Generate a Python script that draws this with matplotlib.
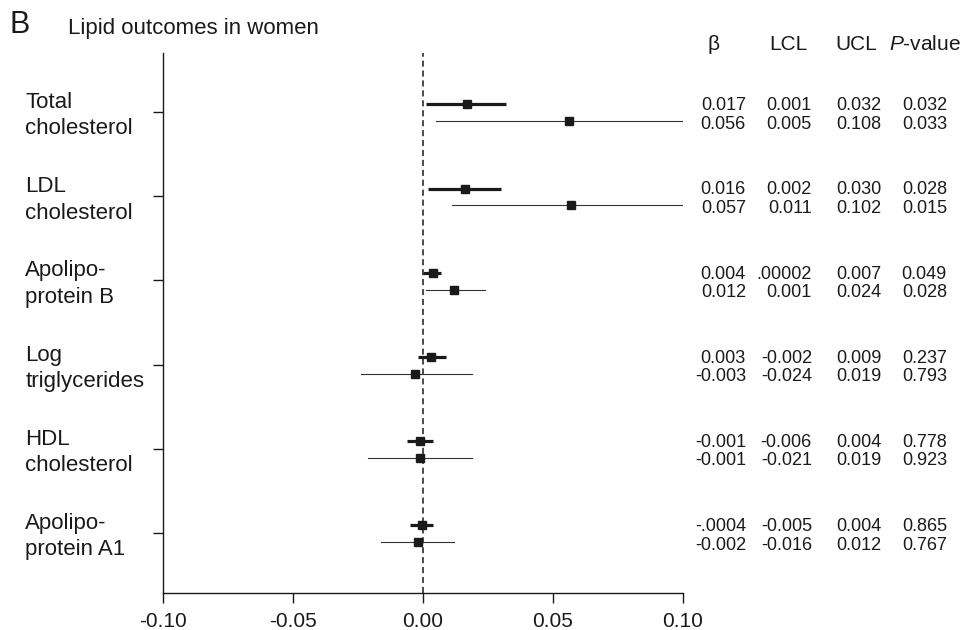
import numpy as np
import matplotlib.pyplot as plt
import matplotlib.transforms as mtransforms

plt.rcParams['font.family'] = ['Liberation Sans', 'DejaVu Sans']
plt.rcParams['mathtext.fontset'] = 'custom'
plt.rcParams['mathtext.rm'] = 'Liberation Sans'
plt.rcParams['mathtext.it'] = 'Liberation Sans:italic'

# Outcomes (top to bottom)
outcomes = ["Total\ncholesterol", "LDL\ncholesterol", "Apolipo-\nprotein B",
            "Log\ntriglycerides", "HDL\ncholesterol", "Apolipo-\nprotein A1"]

# first estimate (thick line) per outcome
beta1 = [0.017, 0.016, 0.004, 0.003, -0.001, -0.0004]
lcl1 = [0.001, 0.002, 0.00002, -0.002, -0.006, -0.005]
ucl1 = [0.032, 0.030, 0.007, 0.009, 0.004, 0.004]
p1 = ["0.032", "0.028", "0.049", "0.237", "0.778", "0.865"]

# second estimate (thin line) per outcome
beta2 = [0.056, 0.057, 0.012, -0.003, -0.001, -0.002]
lcl2 = [0.005, 0.011, 0.001, -0.024, -0.021, -0.016]
ucl2 = [0.108, 0.102, 0.024, 0.019, 0.019, 0.012]
p2 = ["0.033", "0.015", "0.028", "0.793", "0.923", "0.767"]

# table text as printed
tab1 = [["0.017", "0.001", "0.032"], ["0.016", "0.002", "0.030"],
        ["0.004", ".00002", "0.007"], ["0.003", "-0.002", "0.009"],
        ["-0.001", "-0.006", "0.004"], ["-.0004", "-0.005", "0.004"]]
tab2 = [["0.056", "0.005", "0.108"], ["0.057", "0.011", "0.102"],
        ["0.012", "0.001", "0.024"], ["-0.003", "-0.024", "0.019"],
        ["-0.001", "-0.021", "0.019"], ["-0.002", "-0.016", "0.012"]]

xticks = [-0.10, -0.05, 0.00, 0.05, 0.10]

ink = "#1a1a1a"
fig = plt.figure(figsize=(9.68, 6.3), dpi=100)
ax = fig.add_axes([0.1684, 0.0587, 0.5372, 0.8572])

n = len(outcomes)
ypos = np.arange(n, 0, -1)
off_hi = 0.09    # thick line above tick
off_lo = -0.11   # thin line below tick
xmax = 0.10

for i, y in enumerate(ypos):
    ax.plot([lcl1[i], min(ucl1[i], xmax)], [y + off_hi, y + off_hi], color=ink, lw=2.3,
            solid_capstyle="butt", zorder=3)
    ax.plot(beta1[i], y + off_hi, marker="s", ms=5.5, color=ink, zorder=4)
    ax.plot([lcl2[i], min(ucl2[i], xmax)], [y + off_lo, y + off_lo], color="#333333", lw=0.8,
            zorder=3)
    ax.plot(beta2[i], y + off_lo, marker="s", ms=5.5, color=ink, zorder=4)

ax.axvline(0, color=ink, lw=1.1, ls=(0, (4, 2.5)), zorder=2)

ax.set_xlim(-0.10, 0.10)
ax.set_ylim(0.287, 6.70)
ax.set_xticks(xticks)
ax.set_xticklabels(["%.2f" % t for t in xticks], fontsize=15, color=ink)
ax.set_yticks(ypos)
ax.set_yticklabels([])
ax.tick_params(axis="both", direction="out", length=7, width=1.0, color=ink)
ax.tick_params(axis="x", pad=7)
for s in ["top", "right"]:
    ax.spines[s].set_visible(False)
for s in ["left", "bottom"]:
    ax.spines[s].set_linewidth(1.0)
    ax.spines[s].set_color(ink)

# outcome labels (x in figure coords, y in data)
lab_tr = mtransforms.blended_transform_factory(fig.transFigure, ax.transData)
for i, y in enumerate(ypos):
    ax.text(0.026, y - 0.045, outcomes[i], transform=lab_tr, fontsize=16,
            ha="left", va="center", linespacing=1.33, color=ink, clip_on=False)

# table on the right
col_x = [0.1242, 0.1496, 0.1762, 0.2015]
head_y = 6.80
hs = 15
ax.text(0.1119, head_y, "β", fontsize=hs, ha="center", va="center", color=ink)
ax.text(0.1405, head_y, "LCL", fontsize=hs, ha="center", va="center", color=ink)
ax.text(0.1665, head_y, "UCL", fontsize=hs, ha="center", va="center", color=ink)
ax.text(0.1930, head_y, r"$\it{P}$-value", fontsize=hs, ha="center", va="center", color=ink)
ts = 13
t_hi = 0.075
t_lo = -0.145
for i, y in enumerate(ypos):
    for j in range(3):
        ax.text(col_x[j], y + t_hi, tab1[i][j], fontsize=ts, ha="right", va="center",
                color=ink, clip_on=False)
        ax.text(col_x[j], y + t_lo, tab2[i][j], fontsize=ts, ha="right", va="center",
                color=ink, clip_on=False)
    ax.text(col_x[3], y + t_hi, p1[i], fontsize=ts, ha="right", va="center", color=ink)
    ax.text(col_x[3], y + t_lo, p2[i], fontsize=ts, ha="right", va="center", color=ink)

fig.text(0.010, 0.960, "B", fontsize=22, ha="left", va="center", color=ink)
fig.text(0.070, 0.955, "Lipid outcomes in women", fontsize=16, ha="left", va="center",
         color=ink)

fig.savefig("out.png", dpi=100)
